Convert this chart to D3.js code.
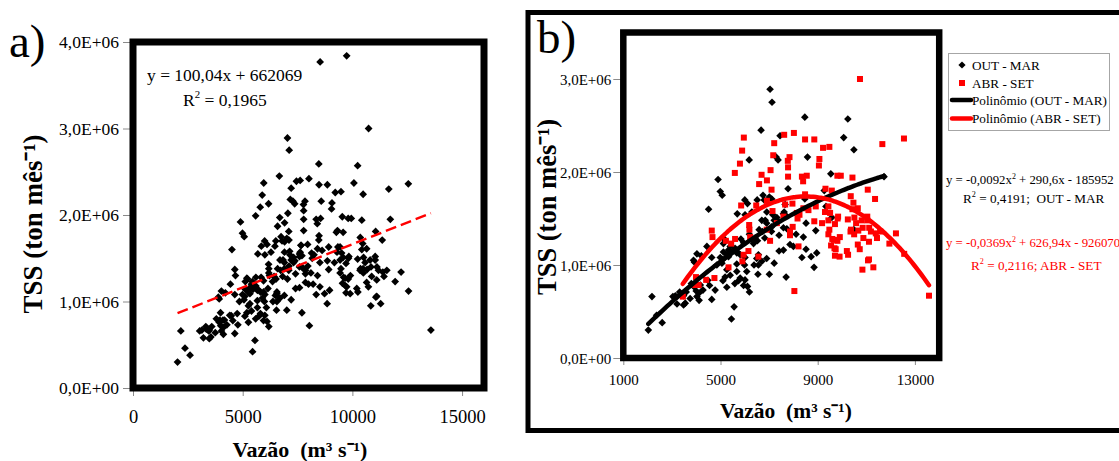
<!DOCTYPE html>
<html>
<head>
<meta charset="utf-8">
<script src="https://cdn.jsdelivr.net/npm/d3@7"></script>
<style>
  html, body { margin: 0; padding: 0; background: #fff; }
  svg { display: block; }
  text { font-family: "Liberation Serif", "Times New Roman", serif; fill: #000; }
</style>
</head>
<body>
<svg id="chart" width="1119" height="461"></svg>
<script>
// ---- Monthly discharge (m³ s⁻¹) vs suspended sediment load (ton mês⁻¹) ----
// OUT - MAR (wet season) months
const outMar = [
  [7040,2.89e6],[7120,2.75e6],[6670,2.45e6],[7450,2.39e6],[7290,2.16e6],[7370,2.13e6],[6180,2.13e6],
  [4900,1.92e6],[4990,1.79e6],[5070,1.75e6],[4510,1.60e6],[6000,1.70e6],[6750,1.75e6],[6510,1.70e6],
  [7780,1.82e6],[5690,1.55e6],[7660,1.65e6],[7620,1.57e6],[7110,1.71e6],
  [8470,2.59e6],[10240,2.57e6],[10070,2.37e6],[10490,2.24e6],[8580,2.16e6],[9540,1.98e6],[9270,1.80e6],
  [8470,1.71e6],[9340,1.63e6],[11730,1.95e6],
  [7590,1.55e6],[7700,1.53e6],[8520,1.45e6],[9580,1.51e6],[8920,1.37e6],[7590,1.40e6],[7730,1.39e6],
  [8110,1.33e6],[8410,1.30e6],[7860,1.22e6],[8000,1.20e6],[8520,1.17e6],[8960,1.13e6],[8350,1.08e6],
  [8730,1.09e6],[10490,1.38e6],[8850,0.975e6],[7700,0.87e6],
  [6840,1.48e6],[6900,1.45e6],[7210,1.48e6],[7320,1.51e6],[6590,1.38e6],[6730,1.36e6],[6430,1.29e6],
  [6520,1.26e6],[5840,1.28e6],[5950,1.24e6],[6820,1.29e6],[7410,1.32e6],[7100,1.36e6],[4440,1.20e6],
  [5190,1.27e6],[5400,1.20e6],[5470,1.14e6],[5260,1.11e6],[5330,1.09e6],[5600,1.18e6],[5700,1.14e6],
  [5810,1.11e6],[4990,1.08e6],[5100,1.06e6],[4030,1.12e6],[4640,1.08e6],[3930,1.03e6],[6010,1.08e6],
  [5990,1.00e6],[6560,1.11e6],[6560,1.00e6],[6700,1.04e6],[6900,1.07e6],[7210,1.02e6],[7010,0.90e6],
  [6540,0.90e6],[7410,1.15e6],[4850,1.00e6],[5260,0.95e6],[5400,0.89e6],[5190,0.87e6],[5670,0.93e6],
  [5810,0.86e6],[6010,0.84e6],[5590,0.80e6],[5740,0.83e6],[5950,0.78e6],[6190,0.71e6],[5260,0.76e6],
  [4640,0.63e6],[4120,0.70e6],[4030,0.66e6],[4120,0.62e6],[4280,0.73e6],[3800,0.80e6],[3930,0.76e6],
  [3590,0.71e6],[3320,0.71e6],[3480,0.67e6],[3140,0.67e6],[3040,0.66e6],[3210,0.58e6],[3550,0.59e6],
  [2600,0.38e6],[2370,0.46e6],[2180,0.66e6],[2030,0.30e6],[5560,0.55e6],[5450,0.42e6],[4480,0.835e6],
  [3340,0.68e6],[3750,0.64e6],[3480,0.57e6],[4000,0.72e6],[4170,0.785e6],[4550,0.78e6],[4780,0.73e6],
  [5100,0.83e6],[5670,1.01e6],[6110,0.77e6],[6080,0.93e6],[6380,1.00e6],[6490,1.07e6],[5330,1.16e6],
  [5120,1.14e6],[5670,1.13e6],[3890,1.05e6],[4210,1.10e6],[5060,1.02e6],[6360,1.23e6],[6190,1.33e6],
  [6795,1.70e6],[7010,1.73e6],[6905,1.57e6],[7150,1.54e6],[7380,1.47e6],[7110,1.41e6],[6700,1.48e6],
  [6290,1.57e6],[6110,1.66e6],[6010,1.54e6],[5120,1.23e6],[7590,1.16e6],
  [8530,3.77e6],[9740,3.84e6]
];

// ABR - SET (dry season) months
const abrSet = [
  [7620,2.40e6],[5960,2.37e6],[7210,2.31e6],[5890,2.23e6],[7170,2.18e6],[7770,2.12e6],[5800,2.09e6],
  [7780,2.05e6],[5590,1.99e6],[7060,2.02e6],[6690,1.97e6],[6910,1.91e6],[6590,1.87e6],[7780,1.95e6],
  [7100,1.81e6],[5850,1.64e6],[6470,1.64e6],[6910,1.69e6],[7140,1.58e6],[7660,1.65e6],
  [10740,3.00e6],[8020,2.42e6],[8480,2.35e6],[8860,2.35e6],[9220,2.26e6],[9480,2.27e6],[11660,2.30e6],
  [12550,2.36e6],[7840,2.16e6],[9070,2.14e6],[9050,2.07e6],[8350,1.95e6],[8550,1.96e6],[8400,1.90e6],
  [9810,1.96e6],[9950,1.96e6],[10430,1.94e6],[9320,1.82e6],[9580,1.80e6],[11060,1.81e6],[10360,1.74e6],
  [11360,1.71e6],[8480,1.76e6],[10470,1.67e6],[10650,1.61e6],[7960,1.66e6],[8920,1.63e6],[9300,1.57e6],
  [9510,1.56e6],[8620,1.59e6],
  [8250,1.54e6],[8170,1.50e6],[8860,1.47e6],[9180,1.45e6],[9440,1.48e6],[9710,1.44e6],[9840,1.52e6],
  [10240,1.49e6],[10510,1.51e6],[11040,1.52e6],[10580,1.45e6],[10810,1.48e6],[10850,1.40e6],[10370,1.38e6],
  [10670,1.37e6],[11120,1.40e6],[11390,1.34e6],[11440,1.29e6],[7970,1.41e6],[9480,1.38e6],[7860,1.32e6],
  [9910,1.30e6],[9600,1.28e6],[9810,1.26e6],[9550,1.21e6],[9690,1.18e6],[8210,1.20e6],[10650,1.22e6],
  [11110,1.25e6],[11950,1.23e6],[12560,1.12e6],[9710,1.10e6],[10250,1.11e6],[11070,1.05e6],[11290,0.975e6],
  [10840,0.95e6],[8040,0.72e6],[13580,0.67e6],
  [4640,1.37e6],[4670,1.30e6],[6180,1.43e6],[6220,1.30e6],[5600,1.28e6],[5220,1.26e6],[7040,1.26e6],
  [6150,1.15e6],[5950,1.11e6],[6560,1.09e6],[5900,1.04e6],[5330,0.975e6],[4750,0.86e6],[4410,0.84e6],
  [4100,0.785e6],[3960,0.785e6],[3450,0.66e6],[5440,1.23e6],[3990,0.87e6],[6190,1.38e6],
  [7590,1.52e6],[8140,1.56e6],[8410,1.61e6],[7320,1.45e6],[6900,1.38e6],[7860,1.36e6],
  [9440,1.63e6],[9820,1.50e6],[9440,1.33e6],[9670,1.27e6],[9740,1.17e6],[9900,1.09e6],[10200,1.15e6],
  [10350,1.36e6],[10500,1.33e6],[11040,1.48e6],[11190,1.36e6],[10730,1.17e6],[11110,1.06e6],[10430,1.60e6],
  [10880,1.29e6],[11570,1.36e6],[12220,1.34e6]
];

// Trend line coefficients
const linearFit = [100.04, 662069];                 // y = a·x + b (all months)
const polyOutMar = [-0.0092, 290.6, -185952];       // y = a·x² + b·x + c
const polyAbrSet = [-0.0369, 626.94, -926070];

// Axis ticks and labels
const aXTicks = [0, 5000, 10000, 15000];
const aYTicks = [0, 1e6, 2e6, 3e6, 4e6];
const aYLabels = ["0,0E+00", "1,0E+06", "2,0E+06", "3,0E+06", "4,0E+06"];
const bXTicks = [1000, 5000, 9000, 13000];
const bYTicks = [0, 1e6, 2e6, 3e6];
const bYLabels = ["0,0E+00", "1,0E+06", "2,0E+06", "3,0E+06"];

const legendLabels = ["OUT - MAR", "ABR - SET", "Polinômio (OUT - MAR)", "Polinômio (ABR - SET)"];

const RED = "#ff0000";
const svg = d3.select("#chart");

// helpers ---------------------------------------------------------------
const diamondPath = r => `M0,${-r}L${r},0L0,${r}L${-r},0Z`;

// text with superscript parts: parts = [[str, isSup], ...]
function richText(g, x, y, parts, fs, opts = {}) {
  const t = g.append("text").attr("x", x).attr("y", y)
    .attr("font-size", fs).style("white-space", "pre");
  if (opts.fill) t.style("fill", opts.fill);
  let raised = false;
  const shift = fs * 0.42;
  parts.forEach(([s, sup]) => {
    const ts = t.append("tspan").text(s);
    if (sup && !raised) { ts.attr("dy", -shift).attr("font-size", fs * 0.62); raised = true; }
    else if (sup) { ts.attr("font-size", fs * 0.62); }
    else if (raised) { ts.attr("dy", shift); raised = false; }
  });
  return t;
}

function styleAxis(g, fs) {
  g.select(".domain").remove();
  g.selectAll(".tick line").attr("stroke", "#8a8a8a").attr("stroke-width", 1);
  g.selectAll(".tick text")
    .attr("font-size", fs)
    .attr("font-family", '"Liberation Serif","Times New Roman",serif')
    .attr("fill", "#000");
}

function polyCurve(coef, data, xs, ys) {
  const ext = d3.extent(data, d => d[0]);
  const pts = d3.range(0, 101).map(i => {
    const x = ext[0] + (ext[1] - ext[0]) * i / 100;
    return [x, coef[0] * x * x + coef[1] * x + coef[2]];
  });
  return d3.line().x(d => xs(d[0])).y(d => ys(d[1])).curve(d3.curveMonotoneX)(pts);
}

// ======================= Panel a: all months =======================
const allMonths = outMar.concat(abrSet);
const ax = d3.scaleLinear().domain([0, 16000]).range([133, 484]);
const ay = d3.scaleLinear().domain([0, 4e6]).range([388, 42]);
const ga = svg.append("g");

ga.append("rect").attr("x", ax(0)).attr("y", ay(4e6))
  .attr("width", ax(16000) - ax(0)).attr("height", ay(0) - ay(4e6)).attr("fill", "#fff");

const axA = ga.append("g").attr("transform", `translate(0,${ay(0)})`)
  .call(d3.axisBottom(ax).tickValues(aXTicks).tickFormat(d3.format("d")).tickSize(8));
styleAxis(axA, 18.5);
axA.selectAll(".tick text").attr("y", 35).attr("dy", 0);

const ayA = ga.append("g").attr("transform", `translate(${ax(0)},0)`)
  .call(d3.axisLeft(ay).tickValues(aYTicks).tickFormat((d, i) => aYLabels[i]).tickSize(10).tickPadding(4));
styleAxis(ayA, 17.5);
ayA.selectAll(".tick text").attr("dy", "0.34em");

ga.append("g").selectAll("path").data(allMonths).join("path")
  .attr("d", diamondPath(3.9))
  .attr("transform", d => `translate(${ax(d[0])},${ay(d[1])})`)
  .attr("fill", "#000");

const linX = d3.extent(allMonths, d => d[0]);
ga.append("line")
  .attr("x1", ax(linX[0])).attr("y1", ay(linearFit[0] * linX[0] + linearFit[1]))
  .attr("x2", ax(linX[1])).attr("y2", ay(linearFit[0] * linX[1] + linearFit[1]))
  .attr("stroke", RED).attr("stroke-width", 2.4).attr("stroke-dasharray", "11,5");

ga.append("rect").attr("x", ax(0)).attr("y", ay(4e6))
  .attr("width", ax(16000) - ax(0)).attr("height", ay(0) - ay(4e6))
  .attr("fill", "none").attr("stroke", "#000").attr("stroke-width", 7);

richText(ga, 147, 80.5, [["y = 100,04x + 662069", false]], 17.5);
richText(ga, 183, 105.5, [["R", false], ["2", true], [" = 0,1965", false]], 17.5);

ga.append("text").attr("x", 300).attr("y", 456.5).attr("text-anchor", "middle")
  .attr("font-size", 22).attr("font-weight", "bold").style("white-space", "pre")
  .text("Vazão  (m³ s⁻¹)");
ga.append("text").attr("transform", "translate(42,224) rotate(-90)").attr("text-anchor", "middle")
  .attr("font-size", 27).attr("font-weight", "bold").text("TSS (ton mês⁻¹)");
ga.append("text").attr("x", 9).attr("y", 57).attr("font-size", 47).text("a)");

// ======================= Panel b: by season =======================
const bx = d3.scaleLinear().domain([1000, 14000]).range([623.3, 939.2]);
const by = d3.scaleLinear().domain([0, 3.5e6]).range([358, 32.5]);
const gb = svg.append("g");

gb.append("rect").attr("x", 528).attr("y", 12.5).attr("width", 620).attr("height", 418)
  .attr("fill", "none").attr("stroke", "#000").attr("stroke-width", 5);

gb.append("defs").append("clipPath").attr("id", "plotB").append("rect")
  .attr("x", bx(1000)).attr("y", by(3.5e6))
  .attr("width", bx(14000) - bx(1000)).attr("height", by(0) - by(3.5e6));

const axB = gb.append("g").attr("transform", `translate(0,${by(0)})`)
  .call(d3.axisBottom(bx).tickValues(bXTicks).tickFormat(d3.format("d")).tickSize(7));
styleAxis(axB, 15);
axB.selectAll(".tick text").attr("y", 27).attr("dy", 0);

const ayB = gb.append("g").attr("transform", `translate(${bx(1000)},0)`)
  .call(d3.axisLeft(by).tickValues(bYTicks).tickFormat((d, i) => bYLabels[i]).tickSize(10).tickPadding(2));
styleAxis(ayB, 15);
ayB.selectAll(".tick text").attr("dy", "0.34em");

const plotB = gb.append("g").attr("clip-path", "url(#plotB)");
plotB.append("g").selectAll("path").data(outMar).join("path")
  .attr("d", diamondPath(3.8))
  .attr("transform", d => `translate(${bx(d[0])},${by(d[1])})`)
  .attr("fill", "#000");
plotB.append("g").selectAll("rect").data(abrSet).join("rect")
  .attr("x", d => bx(d[0]) - 3).attr("y", d => by(d[1]) - 3)
  .attr("width", 6).attr("height", 6).attr("fill", RED);

plotB.append("path").attr("d", polyCurve(polyOutMar, outMar.filter(d => d[1] <= 3.5e6), bx, by))
  .attr("fill", "none").attr("stroke", "#000").attr("stroke-width", 4.5).attr("stroke-linecap", "round");
plotB.append("path").attr("d", polyCurve(polyAbrSet, abrSet, bx, by))
  .attr("fill", "none").attr("stroke", RED).attr("stroke-width", 4.5).attr("stroke-linecap", "round");

gb.append("rect").attr("x", bx(1000)).attr("y", by(3.5e6))
  .attr("width", bx(14000) - bx(1000)).attr("height", by(0) - by(3.5e6))
  .attr("fill", "none").attr("stroke", "#000").attr("stroke-width", 6.5);

gb.append("text").attr("x", 786).attr("y", 418).attr("text-anchor", "middle")
  .attr("font-size", 21.5).attr("font-weight", "bold").style("white-space", "pre")
  .text("Vazão  (m³ s⁻¹)");
gb.append("text").attr("transform", "translate(556,207) rotate(-90)").attr("text-anchor", "middle")
  .attr("font-size", 26.5).attr("font-weight", "bold").text("TSS (ton mês⁻¹)");
gb.append("text").attr("x", 537).attr("y", 53).attr("font-size", 47).text("b)");

// legend
const lg = gb.append("g");
lg.append("rect").attr("x", 948.5).attr("y", 53.5).attr("width", 161).attr("height", 77)
  .attr("fill", "#fff").attr("stroke", "#a6a6a6").attr("stroke-width", 1);
const rowY = [65, 83, 100, 118.5];
lg.append("path").attr("d", diamondPath(3.6)).attr("transform", `translate(962,${rowY[0]})`).attr("fill", "#000");
lg.append("rect").attr("x", 959).attr("y", rowY[1] - 3).attr("width", 6).attr("height", 6).attr("fill", RED);
lg.append("line").attr("x1", 952).attr("x2", 971).attr("y1", rowY[2]).attr("y2", rowY[2])
  .attr("stroke", "#000").attr("stroke-width", 4.5).attr("stroke-linecap", "round");
lg.append("line").attr("x1", 952).attr("x2", 971).attr("y1", rowY[3]).attr("y2", rowY[3])
  .attr("stroke", RED).attr("stroke-width", 4.5).attr("stroke-linecap", "round");
legendLabels.forEach((s, i) => {
  lg.append("text").attr("x", 972).attr("y", rowY[i] + 4.5).attr("font-size", 13.2).text(s);
});

// trend equations
richText(gb, 946, 184, [["y = -0,0092x", false], ["2", true], [" + 290,6x - 185952", false]], 12.8);
richText(gb, 963, 203, [["R", false], ["2", true], [" = 0,4191;  OUT - MAR", false]], 13.2);
richText(gb, 946, 247, [["y = -0,0369x", false], ["2", true], [" + 626,94x - 926070", false]], 12.8, { fill: RED });
richText(gb, 971, 270, [["R", false], ["2", true], [" = 0,2116; ABR - SET", false]], 13.2, { fill: RED });
</script>
</body>
</html>
